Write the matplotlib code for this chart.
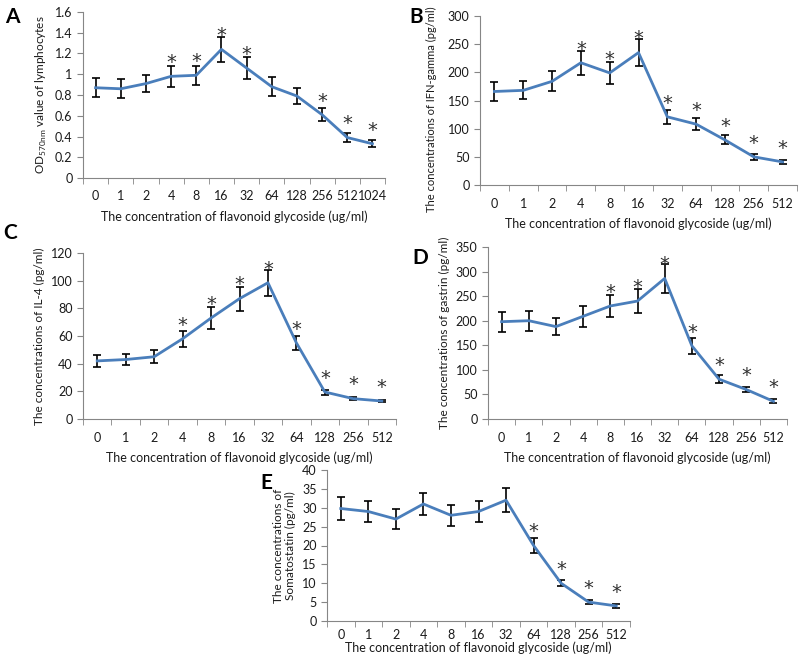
"""
Flavonoid glycoside dose response, panels A-E
"""

import numpy as np
import matplotlib
matplotlib.use("Agg")
import matplotlib.pyplot as plt

plt.rcParams['font.family'] = ['Lato', 'DejaVu Sans']

# concentrations (ug/ml)
conc_a = ['0', '1', '2', '4', '8', '16', '32', '64', '128', '256', '512', '1024']
conc = ['0', '1', '2', '4', '8', '16', '32', '64', '128', '256', '512']

# A - OD570nm of lymphocytes
od_mean = [0.87, 0.86, 0.91, 0.98, 0.99, 1.24, 1.06, 0.88, 0.79, 0.61, 0.39, 0.33]
od_err = [0.09, 0.09, 0.085, 0.10, 0.09, 0.12, 0.105, 0.09, 0.075, 0.06, 0.04, 0.035]
od_sig = [0, 0, 0, 1, 1, 1, 1, 0, 0, 1, 1, 1]

# B - IFN-gamma
ifn_mean = [166, 168, 184, 217, 199, 235, 121, 108, 80, 50, 41]
ifn_err = [16, 16, 18, 21, 19, 24, 12, 11, 8, 5, 4]
ifn_sig = [0, 0, 0, 1, 1, 1, 1, 1, 1, 1, 1]

# C - IL-4
il4_mean = [42, 43, 45, 58, 73, 87, 98.5, 55, 19.5, 14.7, 13]
il4_err = [4.3, 4.2, 4.8, 5.6, 8, 8.6, 9.5, 5.3, 1.8, 1.2, 1]
il4_sig = [0, 0, 0, 1, 1, 1, 1, 1, 1, 1, 1]

# D - gastrin
gas_mean = [198, 200, 188, 209, 230, 240, 286, 149, 81, 60, 36]
gas_err = [20, 20, 18, 21, 22, 24, 30, 16, 8, 5, 4]
gas_sig = [0, 0, 0, 0, 1, 1, 1, 1, 1, 1, 1]

# E - somatostatin
som_mean = [29.8, 29, 27, 31, 28, 29, 32, 20, 10, 5, 4]
som_err = [3, 2.9, 2.7, 3, 2.8, 2.9, 3.2, 2, 0.8, 0.6, 0.5]
som_sig = [0, 0, 0, 0, 0, 0, 0, 1, 1, 1, 1]

line_col = '#4A7EBB'
axis_col = '#868686'
text_col = '#1a1a1a'
xlab = 'The concentration of flavonoid glycoside (ug/ml)'


def panel(rect, labels, mean, err, sig, ymax, ystep, ylabel, fmt=None,
          xlab_pad=6, tick_pad=9, ylab_size=8.5):
    ax = fig.add_axes(rect)
    x = np.arange(len(labels))
    ax.errorbar(x, mean, yerr=err, color=line_col, lw=2, ecolor='black',
                elinewidth=1.2, capsize=3, capthick=1.2)
    for xi, m, s in zip(x, mean, sig):
        if s:
            ax.annotate('*', (xi, m), xytext=(0, 3), textcoords='offset points',
                        ha='center', va='bottom', fontsize=14, color='#303030',
                        family='DejaVu Sans')
    ax.set_xlim(-0.5, len(labels) - 0.5)
    ax.set_ylim(0, ymax)
    ax.set_xticks(x)
    ax.set_xticklabels(labels)
    ax.set_xticks(np.arange(len(labels) + 1) - 0.5, minor=True)
    ax.tick_params(axis='x', which='major', length=0, pad=tick_pad, labelsize=9,
                   labelcolor=text_col)
    ax.tick_params(axis='x', which='minor', length=4, direction='out', color=axis_col)
    yt = np.arange(0, ymax + ystep / 2, ystep)
    ax.set_yticks(yt)
    if fmt:
        ax.set_yticklabels([fmt(v) for v in yt])
    ax.tick_params(axis='y', length=4, direction='out', color=axis_col, labelsize=9,
                   labelcolor=text_col)
    for sp in ['top', 'right']:
        ax.spines[sp].set_visible(False)
    for sp in ['left', 'bottom']:
        ax.spines[sp].set_color(axis_col)
    ax.set_xlabel(xlab, fontsize=9, color=text_col, labelpad=xlab_pad)
    ax.set_ylabel(ylabel, fontsize=ylab_size, color=text_col)
    return ax


fig = plt.figure(figsize=(8, 6.56), dpi=100)
W, H = 800, 656


def rect(left, right, top, bottom):
    return [left / W, (H - bottom) / H, (right - left) / W, (bottom - top) / H]


panel(rect(83, 385, 12, 178), conc_a, od_mean, od_err, od_sig, 1.6, 0.2,
      r'OD$_{\mathregular{570nm}}$ value of lymphocytes',
      fmt=lambda v: ('%.1f' % v).rstrip('0').rstrip('.'))
ax_b = panel(rect(480, 797, 16, 185), conc, ifn_mean, ifn_err, ifn_sig, 300, 50,
             'The concentrations of IFN-gamma (pg/ml)', fmt=lambda v: '%d' % v, ylab_size=8)
ax_b.yaxis.set_label_coords(-0.135, 0.45)
panel(rect(83, 396, 253, 419), conc, il4_mean, il4_err, il4_sig, 120, 20,
      'The concentrations of IL-4 (pg/ml)', fmt=lambda v: '%d' % v)
panel(rect(488, 787, 247, 419), conc, gas_mean, gas_err, gas_sig, 350, 50,
      'The concentrations of gastrin (pg/ml)', fmt=lambda v: '%d' % v)
panel(rect(327, 630, 470, 621), conc, som_mean, som_err, som_sig, 40, 5,
      'The concentrations of\nSomatostatin (pg/ml)', fmt=lambda v: '%d' % v,
      xlab_pad=0, tick_pad=6)

for lab, px, py in [('A', 12, 17), ('B', 416, 17), ('C', 10, 233), ('D', 420, 258), ('E', 266, 483)]:
    fig.text(px / W, 1 - py / H, lab, fontsize=15, fontweight='bold', ha='center', va='center')

fig.savefig('out.png', dpi=100)
